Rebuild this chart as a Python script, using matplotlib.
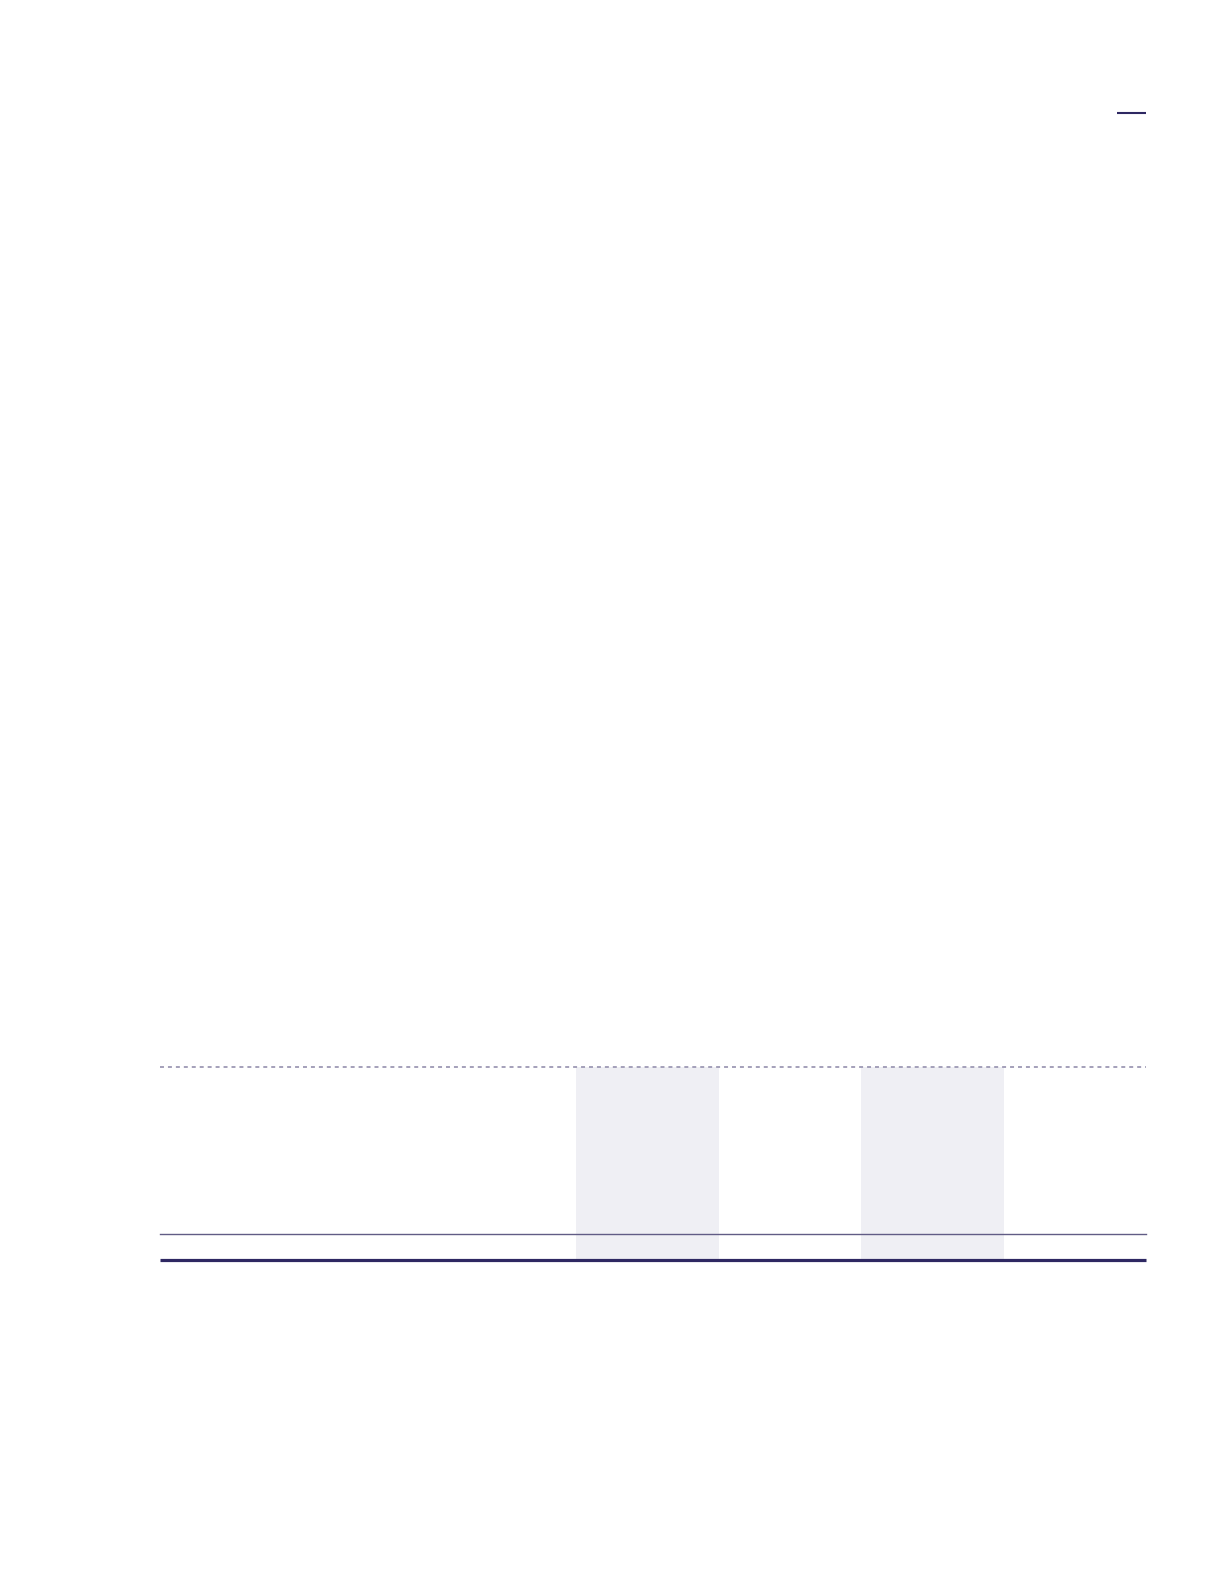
import matplotlib
matplotlib.use("Agg")
import matplotlib.pyplot as plt
from matplotlib.patches import Rectangle

# Table skeleton data (the reference table has no visible text)
column_labels = ["", "", "", "", ""]
column_shaded = [False, True, False, True, False]
row_labels = [""]

W, H = 1230, 1595
fig = plt.figure(figsize=(W / 100, H / 100), dpi=100)
ax = fig.add_axes([0, 0, 1, 1])
ax.set_xlim(0, W)
ax.set_ylim(H, 0)
ax.axis("off")

left, right = 160, 1146
n_other = len(column_labels) - 1
other_w = (right - 576) / n_other
edges = [left, 576] + [576 + other_w * (i + 1) for i in range(n_other)]

top_y = 1067
mid_y = 1233.5
bot_y = 1259.5

shade = "#efeff4"
for i, sh in enumerate(column_shaded):
    if sh:
        ax.add_patch(Rectangle((edges[i], top_y), edges[i + 1] - edges[i],
                               bot_y + 1.5 - top_y, facecolor=shade,
                               edgecolor="none", zorder=1))
    ax.text((edges[i] + edges[i + 1]) / 2, top_y - 10, column_labels[i],
            ha="center", va="bottom", fontsize=9)

ax.plot([left, right], [top_y, top_y], color="#9d99b4", lw=1.3,
        linestyle=(0, (2.2, 2.2)), zorder=2)
ax.plot([left, right], [mid_y, mid_y], color="#615c85", lw=1.0, zorder=2)
ax.plot([left, right], [bot_y, bot_y], color="#2e2862", lw=2.3,
        solid_capstyle="butt", zorder=3)

# small header rule at top right
ax.plot([1117, 1146], [112.7, 112.7], color="#2e2862", lw=1.5,
        solid_capstyle="butt")

fig.savefig("out.png", dpi=100, facecolor="white")
